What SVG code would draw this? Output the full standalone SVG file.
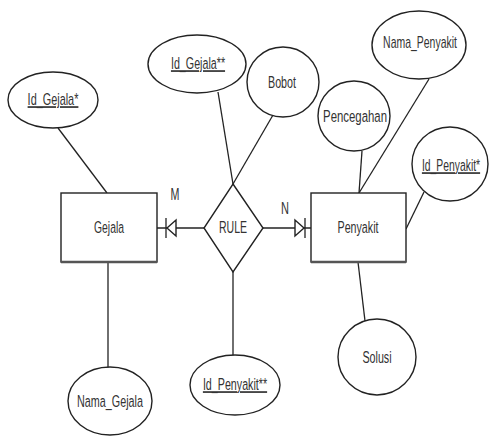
<svg xmlns="http://www.w3.org/2000/svg" width="491" height="437" viewBox="0 0 491 437">
<style>
.sh{fill:#fff;stroke:#222;stroke-width:1.4}
.ln{fill:none;stroke:#222;stroke-width:1.3}
text{font-family:"Liberation Sans",Arial,sans-serif;font-size:17px;fill:#333;text-anchor:middle}
.k{text-decoration:underline}
</style>
<rect width="491" height="437" fill="#fff"/>
<g id="connectors">
<line class="ln" x1="58" y1="128" x2="107" y2="193"/>
<line class="ln" x1="108" y1="262" x2="108" y2="368"/>
<line class="ln" x1="218" y1="92" x2="233" y2="184"/>
<line class="ln" x1="273" y1="115" x2="233" y2="184"/>
<line class="ln" x1="233" y1="272" x2="233" y2="355"/>
<line class="ln" x1="362" y1="151" x2="359" y2="193"/>
<line class="ln" x1="429" y1="79" x2="359" y2="193"/>
<line class="ln" x1="424" y1="192" x2="406" y2="229"/>
<line class="ln" x1="358" y1="262" x2="365" y2="321"/>
<line class="ln" x1="157" y1="228" x2="204" y2="228"/>
<line class="ln" x1="166" y1="218" x2="166" y2="238"/>
<polygon class="sh" points="167,228 176,220 176,236"/>
<line class="ln" x1="262" y1="228" x2="311" y2="228"/>
<line class="ln" x1="305" y1="218" x2="305" y2="238"/>
<polygon class="sh" points="304,228 295,220 295,236"/>
<text transform="translate(175,200) scale(0.63,1)">M</text>
<text transform="translate(285,214) scale(0.65,1)">N</text>
</g>
<g id="gejala">
<rect class="sh" x="61" y="193" width="96" height="69"/>
<line x1="61" y1="262" x2="157" y2="262" stroke="#555" stroke-width="2.5"/>
<text transform="translate(109,233) scale(0.61,1)">Gejala</text>
</g>
<g id="penyakit">
<rect class="sh" x="311" y="193" width="95" height="69"/>
<line x1="311" y1="262" x2="406" y2="262" stroke="#555" stroke-width="2.5"/>
<text transform="translate(358,233) scale(0.63,1)">Penyakit</text>
</g>
<g id="rule">
<polygon class="sh" points="233,184 263,228 233,272 204,228"/>
<text transform="translate(233,233) scale(0.62,1)">RULE</text>
</g>
<g id="id_gejala1">
<ellipse class="sh" cx="53" cy="100" rx="45" ry="28"/>
<text class="k" transform="translate(53,105) scale(0.64,1)">Id_Gejala*</text>
</g>
<g id="nama_gejala">
<ellipse class="sh" cx="110" cy="401" rx="42" ry="34"/>
<text transform="translate(110,407) scale(0.635,1)">Nama_Gejala</text>
</g>
<g id="id_gejala2">
<ellipse class="sh" cx="197" cy="64" rx="49" ry="29"/>
<text class="k" transform="translate(198,69) scale(0.63,1)">Id_Gejala**</text>
</g>
<g id="bobot">
<ellipse class="sh" cx="283" cy="82" rx="36" ry="35"/>
<text transform="translate(282,88) scale(0.63,1)">Bobot</text>
</g>
<g id="id_penyakit2">
<ellipse class="sh" cx="235" cy="385" rx="45" ry="30"/>
<text class="k" transform="translate(235,390) scale(0.63,1)">Id_Penyakit**</text>
</g>
<g id="nama_penyakit">
<ellipse class="sh" cx="419" cy="45" rx="47" ry="34"/>
<text transform="translate(420,48) scale(0.615,1)">Nama_Penyakit</text>
</g>
<g id="pencegahan">
<ellipse class="sh" cx="354" cy="116" rx="36" ry="35"/>
<text transform="translate(355,122) scale(0.67,1)">Pencegahan</text>
</g>
<g id="id_penyakit1">
<ellipse class="sh" cx="450" cy="164" rx="38" ry="37"/>
<text class="k" transform="translate(451,171) scale(0.61,1)">Id_Penyakit*</text>
</g>
<g id="solusi">
<ellipse class="sh" cx="377" cy="357" rx="39" ry="38"/>
<text transform="translate(377,363) scale(0.63,1)">Solusi</text>
</g>
</svg>
